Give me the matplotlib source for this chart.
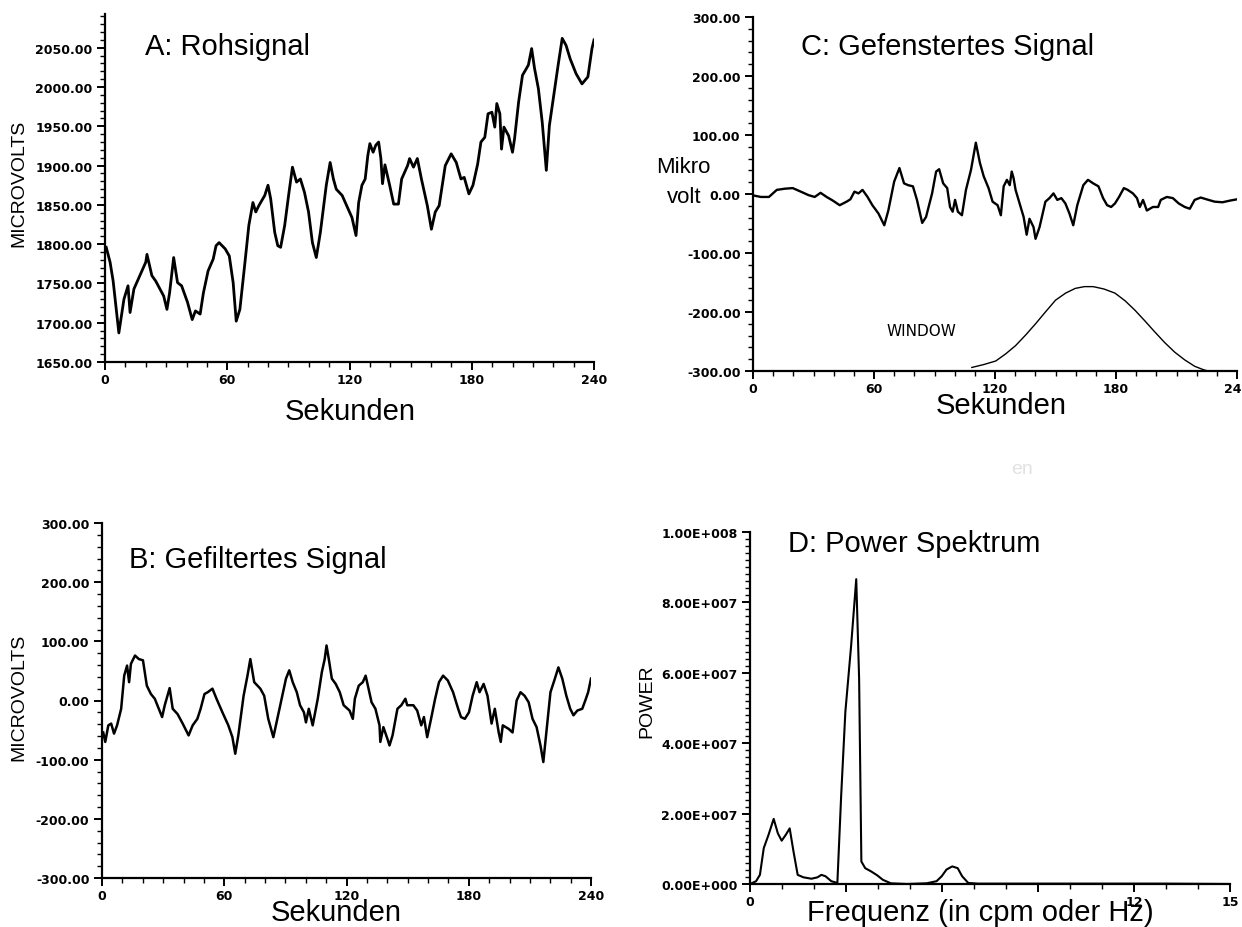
import matplotlib
matplotlib.use("Agg")
import matplotlib.pyplot as plt
from matplotlib.ticker import MultipleLocator, FuncFormatter

W, H = 1242, 928

# A: Rohsignal (Sekunden, Mikrovolt)
a_t = [0.6, 2.5, 4, 6.8, 9.3, 11.3, 12.3, 14.2, 17.1, 20, 20.6, 23, 24.9, 28.8, 30.4,
       31.7, 33.7, 35.6, 37.6, 40.5, 42.8, 44.4, 46.7, 48.3, 50.6, 53.1, 54.5, 56, 59,
       61, 62.9, 64.4, 66.2, 68.7, 70.6, 72.6, 74, 75.5, 78.4, 80, 81.3, 83.3, 84.8,
       86.2, 88.2, 90.1, 92, 94, 95.9, 97.9, 99.9, 101.8, 103.7, 105.7, 108.6, 110.5,
       112.1, 113.5, 116.4, 119.3, 121.2, 123.2, 124.5, 126.1, 127.7, 129, 130, 131.6,
       132.9, 134.3, 135.4, 136.2, 137.4, 139.7, 141.7, 144, 145.6, 148.5, 149.5, 151.4,
       153.3, 155.3, 158.2, 160.2, 162.1, 164, 167, 169.9, 172.4, 174.7, 176.3, 178.6,
       180.6, 182.9, 184.5, 186.4, 188, 189.9, 191.3, 192.3, 193.8, 194.6, 195.8, 198.1,
       200, 201, 203, 204.9, 207.8, 209.4, 210.8, 212.7, 214.6, 216.6, 218.1, 220.5,
       222.4, 224.4, 226.3, 228.3, 231.2, 234.1, 237, 239, 240]
a_uv = [1796, 1777, 1753, 1687, 1730, 1747, 1713, 1743, 1760, 1777, 1787, 1760, 1753, 1734,
        1717, 1738, 1783, 1751, 1747, 1726, 1704, 1715, 1711, 1738, 1766, 1781, 1798, 1802,
        1794, 1785, 1751, 1702, 1717, 1777, 1824, 1853, 1841, 1849, 1862, 1875, 1858, 1815,
        1798, 1796, 1824, 1862, 1898, 1879, 1883, 1866, 1841, 1802, 1783, 1815, 1875, 1904,
        1883, 1870, 1862, 1845, 1834, 1811, 1853, 1875, 1883, 1913, 1928, 1917, 1926, 1930,
        1909, 1877, 1901, 1875, 1851, 1851, 1883, 1900, 1909, 1898, 1909, 1883, 1849, 1819,
        1841, 1849, 1900, 1915, 1904, 1883, 1885, 1864, 1875, 1902, 1930, 1936, 1966, 1968,
        1949, 1979, 1966, 1921, 1949, 1938, 1917, 1934, 1981, 2015, 2028, 2049, 2024, 1998,
        1955, 1894, 1951, 1994, 2028, 2062, 2053, 2036, 2017, 2004, 2013, 2049, 2060]

# B: Gefiltertes Signal
b_t = [0.6, 1.6, 3.1, 4.5, 5.9, 7.4, 9.4, 10.9, 12.3, 13.3, 14.2, 16.2, 18.1, 20.1, 22, 24,
       25.9, 27.9, 29.5, 30.8, 33.2, 34.7, 37.1, 39.6, 42.5, 44.5, 46.8, 48.4, 50.3, 51.9,
       54.2, 56.2, 59.1, 62, 64, 65.4, 66.9, 69.5, 71.4, 72.8, 74.7, 77.7, 79.6, 81.6,
       84.1, 86.4, 88.4, 90.3, 91.9, 93.6, 95.6, 97.2, 99.1, 100.1, 101.5, 103.4, 105.9,
       107.9, 109.3, 110.2, 111.4, 112.8, 114.7, 116.7, 118.6, 121.5, 123.1, 124.1, 126,
       128, 129.4, 130.8, 132.3, 134.2, 136.2, 136.6, 138.1, 140.1, 141.1, 142.6, 145,
       146.9, 148.9, 149.8, 152.8, 154.7, 156.7, 158, 159.6, 161.5, 163.5, 165.4, 167.4,
       169.7, 172.3, 174.8, 176.2, 178.1, 180.1, 181.9, 183.9, 185.3, 187.3, 189.2, 191.2,
       192.8, 194.7, 195.7, 196.7, 199.6, 201.5, 203.5, 205.4, 207.4, 209.4, 211.3, 213.3,
       215.2, 216.6, 218.1, 220.1, 222, 224, 225.9, 227.9, 229.8, 231.4, 233.3, 235.7,
       237.2, 238.6, 240]
b_uv = [-54, -70, -42, -39, -56, -42, -14, 42, 59, 31, 62, 76, 70, 68, 25, 11, 3, -14, -28,
        -8, 21, -14, -23, -39, -59, -42, -31, -14, 11, 14, 20, 3, -20, -42, -62, -90, -59,
        8, 42, 70, 31, 20, 8, -31, -62, -25, 8, 37, 51, 31, 14, -8, -20, -37, -14, -42, 3,
        48, 70, 93, 68, 37, 28, 14, -8, -17, -31, 3, 25, 31, 42, 20, -3, -14, -42, -70, -45,
        -65, -76, -59, -14, -8, 3, -8, -8, -17, -42, -28, -62, -31, 3, 31, 42, 34, 14, -14,
        -28, -31, -20, 8, 31, 14, 28, 8, -39, -14, -54, -70, -42, -48, -54, 0, 14, 8, -3,
        -31, -45, -76, -104, -54, 14, 34, 56, 37, 8, -14, -25, -17, -14, 0, 14, 37]

# C: Gefenstertes Signal
c_t = [1, 3.9, 7.9, 11.8, 15.8, 19.7, 23.7, 27.6, 30.6, 33.5, 36.5, 39.5, 43, 46.4, 48.3,
       50.3, 52.3, 54.3, 56.8, 59.2, 62.2, 65.1, 67.1, 70, 72.6, 74.9, 76.9, 79.3, 81.3,
       83.9, 85.8, 88.8, 90.8, 92.3, 94.3, 96.3, 97.7, 99, 100.2, 101.6, 103.6, 105.6,
       108.1, 110.5, 112.5, 114.4, 116.8, 118.8, 121.3, 122.9, 124.3, 125.9, 127.3, 128.3,
       129.2, 130.2, 132.2, 134.2, 135.7, 137.1, 139.1, 140.1, 142.1, 145, 147, 149, 150.9,
       152.9, 154.9, 156.9, 158.8, 160.8, 163.8, 166.1, 168.7, 171.3, 173.6, 175.6, 177.6,
       179.5, 181.5, 183.9, 185.8, 188.4, 190.4, 191.8, 193.4, 195.3, 198.3, 200.9, 202.2,
       205.2, 208.2, 211.1, 214.1, 216.6, 219, 222, 224.9, 228.9, 232.8, 236.8, 240]
c_uv = [-3, -5, -5, 7, 9, 10, 4, -2, -5, 2, -5, -11, -19, -13, -9, 4, 1, 7, -5, -19, -33,
        -53, -28, 21, 44, 18, 15, 13, -10, -49, -39, 1, 38, 42, 18, 10, -22, -30, -10, -30,
        -36, 7, 41, 87, 53, 30, 10, -13, -19, -36, 13, 24, 15, 38, 27, 7, -16, -39, -69,
        -42, -56, -76, -56, -13, -7, 1, -10, -7, -16, -33, -53, -19, 15, 24, 18, 13, -7,
        -19, -22, -16, -5, 10, 7, 1, -7, -22, -10, -28, -22, -22, -10, -5, -7, -16, -22,
        -25, -10, -6, -9, -13, -14, -11, -9]

# Fensterfunktion (WINDOW)
win_t = [108.5, 114.5, 120.4, 125.3, 130.2, 135.2, 140.1, 145, 150, 155, 159.8, 164.3,
         168.7, 174, 179.5, 184.5, 189.4, 194.3, 199.3, 204.2, 209.1, 214, 219, 223.5, 227.9]
win_y = [-294, -289, -283, -271, -257, -239, -220, -200, -180, -168, -160, -157, -157,
         -161, -168, -181, -197, -215, -234, -252, -268, -281, -292, -298, -302]

# D: Power Spektrum
d_f = [0, 0.19, 0.31, 0.43, 0.58, 0.74, 0.87, 0.99, 1.12, 1.24, 1.36, 1.49, 1.67, 1.92,
       2.11, 2.23, 2.36, 2.54, 2.73, 2.85, 2.98, 3.16, 3.32, 3.41, 3.48, 3.60, 3.78, 3.97,
       4.15, 4.40, 4.9, 5.52, 5.83, 5.99, 6.14, 6.32, 6.49, 6.63, 6.82, 7.13, 9, 11, 13, 15]
d_pow = [0, 0.08, 0.26, 1.02, 1.40, 1.85, 1.44, 1.23, 1.40, 1.58, 0.92, 0.26, 0.19, 0.15,
         0.19, 0.26, 0.22, 0.08, 0.03, 2.53, 4.89, 6.77, 8.66, 5.83, 0.64, 0.45, 0.36, 0.25,
         0.12, 0.02, 0, 0.02, 0.08, 0.22, 0.41, 0.50, 0.45, 0.22, 0.03, 0.01, 0.01, 0.01,
         0.01, 0.0]
d_pow = [v * 1e7 for v in d_pow]

sek_ticks = [0, 60, 120, 180, 240]
freq_ticks = [0, 3, 6, 9, 12, 15]
freq_labels = ['0', '', '', '', '12', '15']   # 3, 6, 9 liegen unter der Achsenbeschriftung

fig = plt.figure(figsize=(W / 100, H / 100), dpi=100)
fig.patch.set_facecolor("white")


def make_axe(left, top, right, bottom):
    return fig.add_axes([left / W, 1 - bottom / H, (right - left) / W, (bottom - top) / H])


# Nur linke und untere Achse, Tick-Stil wie im Ausdruck
def style_axe(axe, yminor, xminor):
    axe.spines['top'].set_visible(False)
    axe.spines['right'].set_visible(False)
    for s in ('left', 'bottom'):
        axe.spines[s].set_linewidth(1.6)
    axe.yaxis.set_minor_locator(MultipleLocator(yminor))
    axe.xaxis.set_minor_locator(MultipleLocator(xminor))
    axe.tick_params(which='major', direction='out', length=6, width=1.4, pad=3,
                    labelsize=9)
    axe.tick_params(axis='x', which='major', pad=2)
    axe.tick_params(which='minor', direction='out', length=3.5, width=1.0)
    for lab in axe.get_xticklabels() + axe.get_yticklabels():
        lab.set_fontweight('bold')
        lab.set_family('DejaVu Sans')
    axe.set_facecolor('none')


fmt2 = FuncFormatter(lambda v, p: f"{v:.2f}")


def fmt_e(v, p):
    if v == 0:
        return "0.00E+000"
    e = 0
    m = v
    while abs(m) >= 10:
        m /= 10
        e += 1
    return f"{m:.2f}E+{e:03d}"


# A
axA = make_axe(105, 15, 594, 363)
axA.plot(a_t, a_uv, color='black', lw=2.0)
axA.set_xlim(0, 240)
axA.set_ylim(1650, 2093)
axA.set_yticks([1650, 1700, 1750, 1800, 1850, 1900, 1950, 2000, 2050])
axA.yaxis.set_major_formatter(fmt2)
axA.set_xticks(sek_ticks)
style_axe(axA, 10, 10)

# C
axC = make_axe(753, 18, 1237, 372)
axC.plot(c_t, c_uv, color='black', lw=1.7)
axC.plot(win_t, win_y, color='black', lw=1.0)
axC.set_xlim(0, 240)
axC.set_ylim(-300, 300)
axC.set_yticks([-300, -200, -100, 0, 100, 200, 300])
axC.yaxis.set_major_formatter(fmt2)
axC.set_xticks(sek_ticks)
style_axe(axC, 20, 10)

# B
axB = make_axe(102, 524, 591, 879)
axB.plot(b_t, b_uv, color='black', lw=1.8)
axB.set_xlim(0, 240)
axB.set_ylim(-300, 300)
axB.set_yticks([-300, -200, -100, 0, 100, 200, 300])
axB.yaxis.set_major_formatter(fmt2)
axB.set_xticks(sek_ticks)
style_axe(axB, 20, 10)

# D
axD = make_axe(750, 533, 1230, 885)
axD.plot(d_f, d_pow, color='black', lw=1.5)
axD.set_xlim(0, 15)
axD.set_ylim(0, 1e8)
axD.set_yticks([0, 2e7, 4e7, 6e7, 8e7, 1e8])
axD.yaxis.set_major_formatter(FuncFormatter(fmt_e))
axD.set_xticks(freq_ticks)
axD.set_xticklabels(freq_labels)
style_axe(axD, 2e6, 1)

for ax in (axA, axB, axC, axD):
    for lab in ax.get_xticklabels() + ax.get_yticklabels():
        lab.set_fontweight('bold')


def ftext(x, y, s, **kw):
    kw.setdefault('family', 'Liberation Sans')
    return fig.text(x / W, 1 - y / H, s, **kw)


big = 21
ftext(145, 55, "A: Rohsignal", fontsize=big, va='baseline')
ftext(801, 55, "C: Gefenstertes Signal", fontsize=big, va='baseline')
ftext(129, 568, "B: Gefiltertes Signal", fontsize=big, va='baseline')
ftext(788, 552, "D: Power Spektrum", fontsize=big, va='baseline')

ftext(285, 420, "Sekunden", fontsize=big, va='baseline')
ftext(936, 414, "Sekunden", fontsize=big, va='baseline')
ftext(271, 921, "Sekunden", fontsize=big, va='baseline')
ftext(807, 921, "Frequenz (in cpm oder Hz)", fontsize=big, va='baseline')

ftext(19, 183, "MICROVOLTS", fontsize=14, rotation=90, ha='center', va='center')
ftext(19, 697, "MICROVOLTS", fontsize=14, rotation=90, ha='center', va='center')
ftext(647, 701, "POWER", fontsize=14, rotation=90, ha='center', va='center')

ftext(683, 173, "Mikro", fontsize=16, ha='center', va='baseline')
ftext(684, 203, "volt", fontsize=16, ha='center', va='baseline')

ftext(921, 332, "WINDOW", fontsize=11, ha='center', va='center', family='DejaVu Sans')
ftext(1022, 470, "en", fontsize=14, ha='center', va='center', color='#e2e2e2')

fig.savefig("out.png", dpi=100, facecolor='white')
